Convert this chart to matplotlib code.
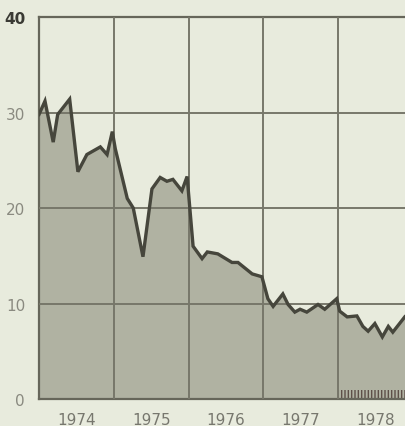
import matplotlib
matplotlib.use("Agg")
import matplotlib.pyplot as plt
import numpy as np

# decimal-year positions and values
years = [1974.00, 1974.08, 1974.19, 1974.25, 1974.41, 1974.52, 1974.64, 1974.82, 1974.91, 1974.98,
         1975.02, 1975.18, 1975.26, 1975.39, 1975.51, 1975.62, 1975.71, 1975.79, 1975.91, 1975.98,
         1976.06, 1976.18, 1976.25, 1976.39, 1976.58, 1976.66, 1976.85, 1976.98,
         1977.06, 1977.13, 1977.26, 1977.33, 1977.42, 1977.49, 1977.58, 1977.73, 1977.82, 1977.98,
         1978.02, 1978.12, 1978.25, 1978.33, 1978.40, 1978.49, 1978.59, 1978.67, 1978.73, 1978.89]
values = [29.8, 31.2, 26.9, 29.8, 31.4, 23.8, 25.6, 26.4, 25.6, 28.0,
          26.2, 21.0, 20.0, 14.9, 22.0, 23.2, 22.8, 23.0, 21.8, 23.3,
          16.0, 14.7, 15.4, 15.2, 14.3, 14.3, 13.1, 12.8,
          10.5, 9.7, 11.0, 9.9, 9.1, 9.4, 9.1, 9.9, 9.4, 10.5,
          9.2, 8.6, 8.7, 7.6, 7.1, 7.9, 6.5, 7.6, 7.0, 8.6]

# small dark strip along the baseline in 1978
strip_years = [1977.97, 1978.89]
strip_values = [0.9, 0.9]

year_labels = ["1974", "1975", "1976", "1977", "1978"]
y_ticks = [0, 10, 20, 30, 40]

bg = "#e8ebdd"
fig = plt.figure(figsize=(4.05, 4.27), dpi=100, facecolor=bg)
ax = fig.add_axes([0.0963, 0.0632, 0.9037, 0.8946], facecolor=bg)

ax.fill_between(years, values, 0, color="#b0b2a2", zorder=1, linewidth=0)
ax.fill_between(strip_years, strip_values, 0, facecolor="none", edgecolor="#5e5048",
                hatch="|||||", linewidth=0, zorder=2)
ax.plot(years, values, color="#46463c", linewidth=2.4, zorder=4, solid_joinstyle="miter")

ax.set_xlim(1974.0, 1978.893)
ax.set_ylim(0, 40)

# grid lines at year boundaries and every 10 units
for yr in [1975, 1976, 1977, 1978]:
    ax.axvline(yr, color="#77776a", linewidth=1.4, zorder=3)
for yv in [10, 20, 30]:
    ax.axhline(yv, color="#77776a", linewidth=1.4, zorder=3)

for side in ["left", "bottom", "top"]:
    ax.spines[side].set_color("#66665a")
    ax.spines[side].set_linewidth(1.6)
ax.spines["right"].set_visible(False)

ax.set_xticks([1974.5 + i for i in range(len(year_labels))])
ax.set_xticklabels(year_labels, fontsize=11, color="#77776e", family="DejaVu Sans")
ax.set_yticks(y_ticks)
ylabels = ax.set_yticklabels([str(v) for v in y_ticks], fontsize=11, color="#8a8a80",
                             family="DejaVu Sans")
ylabels[-1].set_color("#3a3a34")
ylabels[-1].set_fontweight("bold")
ax.tick_params(axis="x", length=0, pad=9)
ax.tick_params(axis="y", length=0, pad=10)

fig.savefig("out.png", dpi=100, facecolor=bg)
